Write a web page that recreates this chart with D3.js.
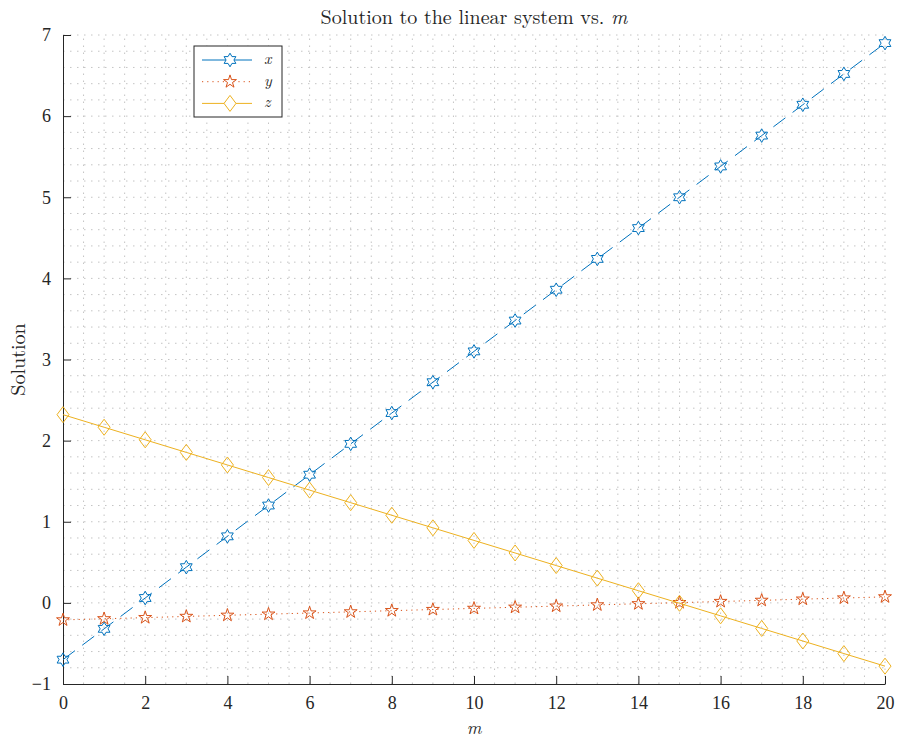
<!DOCTYPE html>
<html>
<meta charset="UTF-8">
<head>
<title>Solution vs m</title>
<style>
    body { margin: 0; background: #fff; }
    svg text { font-family: "Latin Modern Roman", "CMU Serif", "Liberation Serif", serif; fill: #262626; }
    .grid line { stroke: #c4c4c4; stroke-width: 1; stroke-dasharray: 1.5,5.5; }
    .axis path, .axis line { stroke: #262626; }
</style>
</head>
<body>
<div id="chart"></div>
<script src="https://d3js.org/d3.v7.min.js"></script>
<script>
// data
const mVals = [0,1,2,3,4,5,6,7,8,9,10,11,12,13,14,15,16,17,18,19,20];
const xVals = [-0.70,-0.32,0.06,0.44,0.82,1.20,1.58,1.96,2.34,2.72,3.10,3.48,3.86,4.24,4.62,5.00,5.38,5.76,6.14,6.52,6.90];
const yVals = [-0.210,-0.196,-0.182,-0.167,-0.153,-0.139,-0.125,-0.111,-0.096,-0.082,-0.068,-0.054,-0.040,-0.025,-0.011,0.003,0.017,0.031,0.046,0.060,0.074];
const zVals = [2.320,2.165,2.010,1.855,1.700,1.545,1.390,1.235,1.080,0.925,0.770,0.615,0.460,0.305,0.150,-0.005,-0.160,-0.315,-0.470,-0.625,-0.780];
const xTicks = [0,2,4,6,8,10,12,14,16,18,20];
const yTicks = [-1,0,1,2,3,4,5,6,7];

const width = 899, height = 740;
const margin = {left: 63, right: 14, top: 35, bottom: 56};

let svg = d3.select("#chart").append("svg")
    .attr("width", width).attr("height", height);

let x = d3.scaleLinear().domain([0, 20]).range([margin.left, width - margin.right]);
let y = d3.scaleLinear().domain([-1, 7]).range([height - margin.bottom, margin.top]);

// grid (major + minor, all dotted)
let gx = d3.range(0, 20.01, 0.5), gy = d3.range(-1, 7.01, 0.2);
let grid = svg.append("g").attr("class", "grid");
grid.selectAll(".gv").data(gx.slice(1)).enter().append("line")
    .attr("x1", d => x(d)).attr("x2", d => x(d))
    .attr("y1", y(-1)).attr("y2", y(7));
grid.selectAll(".gh").data(gy.slice(1)).enter().append("line")
    .attr("x1", x(0)).attr("x2", x(20))
    .attr("y1", d => y(d)).attr("y2", d => y(d));

// axes
let xAxis = svg.append("g").attr("class", "axis")
    .attr("transform", "translate(0," + y(-1) + ")")
    .call(d3.axisBottom(x).tickValues(xTicks).tickSize(-8).tickSizeOuter(0).tickPadding(12));
let yAxis = svg.append("g").attr("class", "axis")
    .attr("transform", "translate(" + x(0) + ",0)")
    .call(d3.axisLeft(y).tickValues(yTicks).tickSize(-8).tickSizeOuter(0).tickPadding(12));
svg.selectAll(".axis text").style("font-size", "18px")
    .style("font-family", "'Liberation Serif', serif").attr("fill", "#262626");

// marker shapes
function hexagram(r) {
    let pts = [];
    for (let i = 0; i < 12; i++) {
        let a = Math.PI / 2 + i * Math.PI / 6;
        let rr = i % 2 === 0 ? r : r / Math.sqrt(3);
        pts.push([rr * Math.cos(a), -rr * Math.sin(a)]);
    }
    return "M" + pts.join("L") + "Z";
}
function pentagram(r) {
    let pts = [];
    for (let i = 0; i < 10; i++) {
        let a = Math.PI / 2 + i * Math.PI / 5;
        let rr = i % 2 === 0 ? r : r * 0.382;
        pts.push([rr * Math.cos(a), -rr * Math.sin(a)]);
    }
    return "M" + pts.join("L") + "Z";
}
function diamond(w, h) {
    return "M0," + (-h) + "L" + w + ",0L0," + h + "L" + (-w) + ",0Z";
}

const series = [
    {name: "x", vals: xVals, color: "#0072BD", dash: "15,9", marker: hexagram(6.8)},
    {name: "y", vals: yVals, color: "#D95319", dash: "1.2,4", marker: pentagram(6.8)},
    {name: "z", vals: zVals, color: "#EDB120", dash: null, marker: diamond(6, 8)}
];

let line = d3.line().x((d, i) => x(mVals[i])).y(d => y(d));

series.forEach(s => {
    let g = svg.append("g");
    g.append("path").datum(s.vals)
        .attr("d", line)
        .attr("fill", "none")
        .attr("stroke", s.color)
        .attr("stroke-width", 1)
        .attr("stroke-dasharray", s.dash);
    g.selectAll(".mk").data(s.vals).enter().append("path")
        .attr("d", s.marker)
        .attr("transform", (d, i) => "translate(" + x(mVals[i]) + "," + y(d) + ")")
        .attr("fill", "none")
        .attr("stroke", s.color)
        .attr("stroke-width", 1);
});

// legend
let lg = svg.append("g").attr("transform", "translate(194,46)");
lg.append("rect").attr("width", 88).attr("height", 71)
    .attr("fill", "#fff").attr("stroke", "#262626").attr("stroke-width", 1);
series.forEach((s, i) => {
    let yy = 14 + i * 21.7;
    lg.append("line").attr("x1", 8).attr("x2", 58).attr("y1", yy).attr("y2", yy)
        .attr("stroke", s.color).attr("stroke-dasharray", s.name === "y" ? s.dash : null);
    lg.append("path").attr("d", s.marker).attr("transform", "translate(36," + yy + ")")
        .attr("fill", "#fff").attr("stroke", s.color);
    lg.append("text").attr("x", 70).attr("y", yy + 4)
        .style("font-size", "16px").style("font-style", "italic").text(s.name);
});

// title and labels
let title = svg.append("text").attr("x", (x(0) + x(20)) / 2).attr("y", 24)
    .attr("text-anchor", "middle").style("font-size", "20px");
title.append("tspan").text("Solution to the linear system vs. ");
title.append("tspan").style("font-style", "italic").text("m");

svg.append("text").attr("x", (x(0) + x(20)) / 2).attr("y", 734)
    .attr("text-anchor", "middle").style("font-size", "18px").style("font-style", "italic").text("m");

svg.append("text").attr("transform", "translate(25," + y(3) + ") rotate(-90)")
    .attr("text-anchor", "middle").style("font-size", "20px").text("Solution");
</script>
</body>
</html>
